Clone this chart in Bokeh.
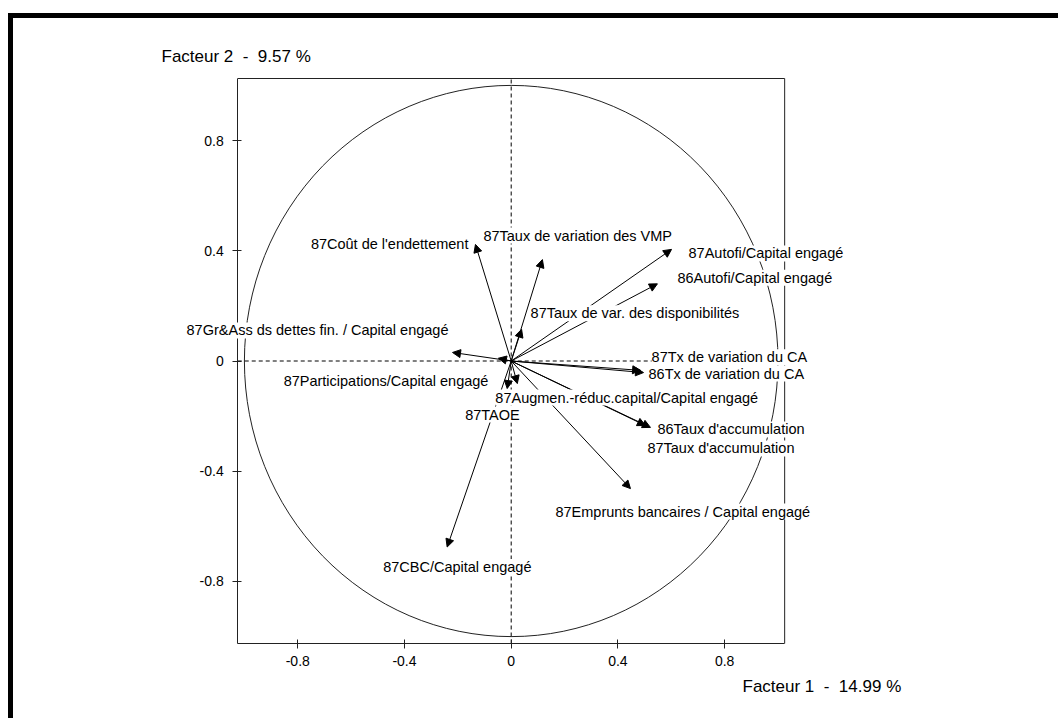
from bokeh.plotting import figure
from bokeh.models import (ColumnDataSource, Arrow, NormalHead, LabelSet, Label,
                          FixedTicker, LinearAxis, Range1d)
from bokeh.core.properties import value
from bokeh.embed import file_html
from bokeh.resources import INLINE

# ---------------- data ----------------
names = [
    "87Coût de l'endettement",
    "87Taux de variation des VMP",
    "87Autofi/Capital engagé",
    "86Autofi/Capital engagé",
    "87Taux de var. des disponibilités",
    "87Gr&Ass ds dettes fin. / Capital engagé",
    "87Tx de variation du CA",
    "86Tx de variation du CA",
    "87Participations/Capital engagé",
    "87Augmen.-réduc.capital/Capital engagé",
    "86Taux d'accumulation",
    "87Taux d'accumulation",
    "87TAOE",
    "87Emprunts bancaires / Capital engagé",
    "87CBC/Capital engagé",
]
factor1 = [-0.134, 0.117, 0.601, 0.548, 0.039, -0.220, 0.485, 0.496,
           -0.048, 0.023, 0.522, 0.503, -0.015, 0.447, -0.240]
factor2 = [0.423, 0.368, 0.405, 0.280, 0.115, 0.031, -0.034, -0.042,
           0.010, -0.082, -0.241, -0.234, -0.100, -0.463, -0.675]

axis_ticks = [-0.8, -0.4, 0.0, 0.4, 0.8]
tick_labels = ["-0.8", "-0.4", "0", "0.4", "0.8"]
NB = "\u00a0"
x_title = "Facteur 1" + NB * 2 + "-" + NB * 2 + "14.99 %"
y_title = "Facteur 2" + NB * 2 + "-" + NB * 2 + "9.57 %"

# ---------------- label placement (layout, pixels) ----------------
lab_dx = [-7, -59, 17, 20, 9, -4, 11, 5, -10, -22, 7, 2, -42, -75, -64]
lab_dy_down = [0, -24, 4, -6, -16, -22, -13, 1, 23, 14, 2, 23, 26, 23, 20]
lab_align = ["right", "left", "left", "left", "left", "right", "left", "left",
             "right", "left", "left", "left", "left", "left", "left"]

FONT = "Liberation Sans"
R = 1.025            # half-width of the boxed region
LINE = "#222222"

# canvas 1045 x 700, data origin at canvas (497.7, 342.5), 266.8 / 275.6 px per unit
CW, CH = 1045, 700
SX, SY = 266.8, 275.6
OX, OY = 497.7, 342.5

p = figure(frame_width=CW, frame_height=CH,
           min_border_left=0, min_border_right=0,
           min_border_top=0, min_border_bottom=0,
           x_range=Range1d(-OX / SX, (CW - OX) / SX),
           y_range=Range1d(-(CH - OY) / SY, OY / SY),
           x_axis_location=None, y_axis_location=None,
           output_backend="svg", toolbar_location=None,
           background_fill_color="white", border_fill_color="white")
p.styles = {"border-left": "5px solid black", "border-top": "5px solid black",
            "margin-top": "13px", "margin-left": "8px"}
p.grid.visible = False
p.outline_line_color = None

xax = LinearAxis(fixed_location=-R, bounds=(-R, R))
yax = LinearAxis(fixed_location=-R, bounds=(-R, R))
for ax in (xax, yax):
    ax.ticker = FixedTicker(ticks=axis_ticks)
    ax.major_label_overrides = dict(zip(axis_ticks, tick_labels))
    ax.minor_tick_line_color = None
    ax.major_tick_in = 4
    ax.major_tick_out = 5
    ax.axis_line_color = LINE
    ax.major_tick_line_color = LINE
    ax.major_label_text_font = FONT
    ax.major_label_text_font_size = "14px"
    ax.major_label_text_color = "black"
xax.major_label_standoff = 8
yax.major_label_standoff = 9
p.add_layout(xax, "below")
p.add_layout(yax, "left")

# top and right sides of the box
p.segment(x0=[-R, R], y0=[R, -R], x1=[R, R], y1=[R, R],
          line_color=LINE, line_width=1)

# unit circle
p.ellipse(x=0, y=0, width=2, height=2, fill_color=None,
          line_color=LINE, line_width=1)
# dashed zero axes
p.segment(x0=[-R, 0], y0=[0, -R], x1=[R, 0], y1=[0, R],
          line_color="black", line_width=1, line_dash="4 3")

src = ColumnDataSource(dict(
    x0=[0.0] * len(names), y0=[0.0] * len(names),
    x=factor1, y=factor2, name=names,
    xo=lab_dx, yo=[-d for d in lab_dy_down], align=lab_align,
))

p.add_layout(Arrow(end=NormalHead(size=8, fill_color="black", line_color="black",
                                  line_width=1),
                   x_start="x0", y_start="y0", x_end="x", y_end="y",
                   source=src, line_color="black", line_width=1))

labels = LabelSet(x="x", y="y", text="name", source=src,
                  x_offset="xo", y_offset="yo", text_align="align",
                  text_baseline="middle",
                  text_font=value(FONT), text_font_size="14.5px",
                  text_color="black",
                  background_fill_color="white", background_fill_alpha=1.0)
p.add_layout(labels)

p.add_layout(Label(x=(161 - 13 - OX) / SX, y=(OY - (56 - 18)) / SY, text=y_title,
                   text_font=FONT, text_font_size="17px", text_baseline="middle",
                   text_color="black"))
p.add_layout(Label(x=(742 - 13 - OX) / SX, y=(OY - (686 - 18)) / SY, text=x_title,
                   text_font=FONT, text_font_size="17px", text_baseline="middle",
                   text_color="black"))

open("out.html", "w").write(file_html(p, INLINE))
